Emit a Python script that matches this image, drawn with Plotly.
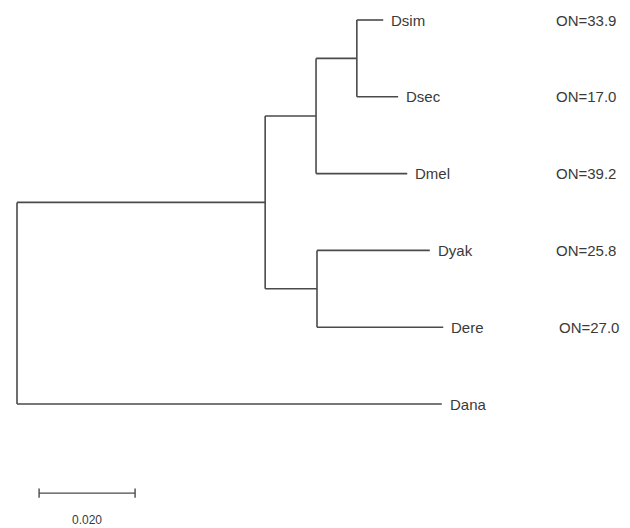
import plotly.graph_objects as go

# ---- data ----
node_names = ["root", "A", "B", "C", "D", "Dsim", "Dsec", "Dmel", "Dyak", "Dere", "Dana"]
node_parents = [None, "root", "A", "B", "A", "C", "C", "B", "D", "D", "root"]
branch_lengths = [0.0, 0.0517, 0.0106, 0.0085, 0.0108, 0.0055, 0.0086, 0.0190, 0.0235, 0.0263, 0.0885]
leaf_order = ["Dsim", "Dsec", "Dmel", "Dyak", "Dere", "Dana"]
on_taxa = ["Dsim", "Dsec", "Dmel", "Dyak", "Dere"]
on_values = [33.9, 17.0, 39.2, 25.8, 27.0]
scale_length = 0.020
scale_label = "0.020"

# ---- layout of tree ----
parent = dict(zip(node_names, node_parents))
blen = dict(zip(node_names, branch_lengths))
children = {n: [] for n in node_names}
for n, p in zip(node_names, node_parents):
    if p is not None:
        children[p].append(n)

xpos = {}
def depth(n):
    if n in xpos:
        return xpos[n]
    p = parent[n]
    xpos[n] = blen[n] + (depth(p) if p else 0.0)
    return xpos[n]
for n in node_names:
    depth(n)

ypos = {n: i for i, n in enumerate(leaf_order)}
def yof(n):
    if n in ypos:
        return ypos[n]
    ys = [yof(c) for c in children[n]]
    ypos[n] = (min(ys) + max(ys)) / 2
    return ypos[n]
for n in node_names:
    yof(n)

LINE = "#4a4a4a"
TEXT = "#3a3a3a"
FONT = "Liberation Sans, Arial, sans-serif"

xs, ys = [], []
for n in node_names:
    p = parent[n]
    if p is not None:
        xs += [xpos[p], xpos[n], None]
        ys += [ypos[n], ypos[n], None]
    if children[n]:
        cy = [ypos[c] for c in children[n]]
        xs += [xpos[n], xpos[n], None]
        ys += [min(cy), max(cy), None]

fig = go.Figure()
fig.add_trace(go.Scatter(x=xs, y=ys, mode="lines",
                         line=dict(color=LINE, width=1.6), hoverinfo="skip",
                         showlegend=False))

# scale bar
sb_x0 = 0.0046
sb_y = 6.16
fig.add_trace(go.Scatter(
    x=[sb_x0, sb_x0 + scale_length, None, sb_x0, sb_x0, None, sb_x0 + scale_length, sb_x0 + scale_length],
    y=[sb_y, sb_y, None, sb_y - 0.06, sb_y + 0.06, None, sb_y - 0.06, sb_y + 0.06],
    mode="lines", line=dict(color=LINE, width=1.4), hoverinfo="skip", showlegend=False))

annotations = []
for n in leaf_order:
    annotations.append(dict(x=xpos[n], y=ypos[n], text=n, showarrow=False,
                            xanchor="left", yanchor="middle", xshift=6,
                            font=dict(family=FONT, size=15, color=TEXT)))
on_col = 0.1118
for n, v in zip(on_taxa, on_values):
    annotations.append(dict(x=on_col, y=ypos[n], text=f"ON={v:.1f}", showarrow=False,
                            xanchor="left", yanchor="middle",
                            xshift=3 if n == "Dere" else 0,
                            font=dict(family=FONT, size=15, color=TEXT)))
annotations.append(dict(x=sb_x0 + scale_length / 2, y=sb_y, text=scale_label, showarrow=False,
                        xanchor="center", yanchor="middle", yshift=-27,
                        font=dict(family=FONT, size=12, color=TEXT)))

fig.update_layout(
    width=630, height=528,
    margin=dict(l=0, r=0, t=0, b=0),
    paper_bgcolor="white", plot_bgcolor="white",
    xaxis=dict(range=[-17 / 4800, 613 / 4800], visible=False, fixedrange=True),
    yaxis=dict(range=[508 / 76.8, -20 / 76.8], visible=False, fixedrange=True),
    annotations=annotations,
    showlegend=False,
)

fig.write_html("out.html",
               config={"displayModeBar": False, "staticPlot": True},
               post_script="document.body.style.margin='0';document.body.style.overflow='hidden';")
